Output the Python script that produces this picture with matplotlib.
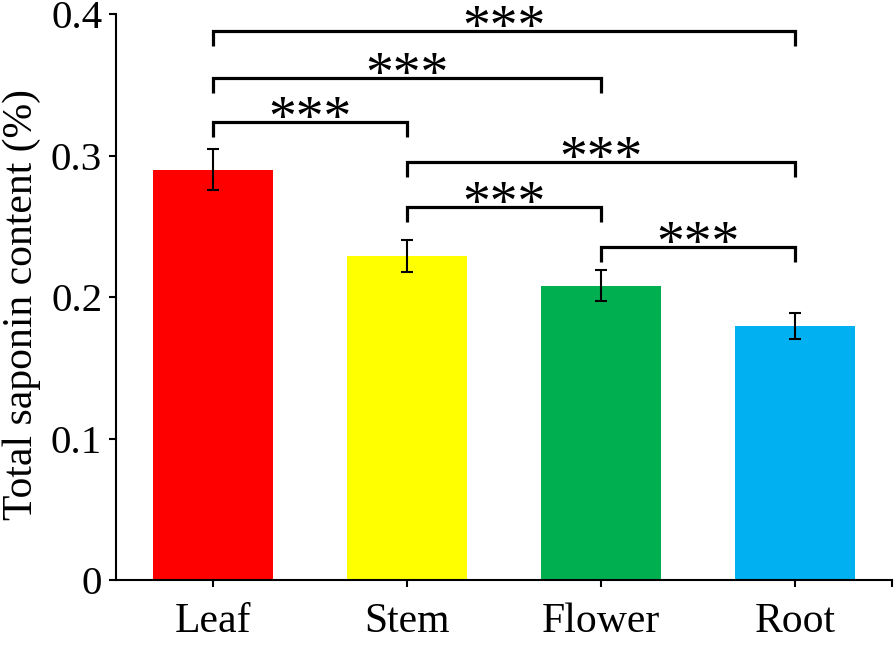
import matplotlib
matplotlib.use("Agg")
import matplotlib.pyplot as plt

categories = ["Leaf", "Stem", "Flower", "Root"]
values = [0.290, 0.229, 0.208, 0.1795]
errors = [0.0145, 0.011, 0.011, 0.0095]
colors = ["#FF0000", "#FFFF00", "#00B050", "#00B0F0"]
# (left index, right index, bracket height, label)
brackets = [
    (0, 3, 0.388, "***"),
    (0, 2, 0.355, "***"),
    (0, 1, 0.3235, "***"),
    (1, 3, 0.2955, "***"),
    (1, 2, 0.2635, "***"),
    (2, 3, 0.2355, "***"),
]
y_ticks = [0, 0.1, 0.2, 0.3, 0.4]
y_ticklabels = ["0", "0.1", "0.2", "0.3", "0.4"]

plt.rcParams['font.family'] = ['Liberation Serif', 'DejaVu Serif']

fig = plt.figure(figsize=(8.96, 6.48), dpi=100)
ax = fig.add_axes([0.1295, 0.1049, 0.866, 0.8735])

x = list(range(len(categories)))
ax.bar(x, values, width=0.62, color=colors, zorder=2)
ax.errorbar(x, values, yerr=errors, fmt='none', ecolor='black',
            elinewidth=1.5, capsize=4.5, capthick=1.5, zorder=3)

leg = 0.0105
for i, j, h, lab in brackets:
    ax.plot([i, i, j, j], [h - leg, h, h, h - leg], color='black',
            lw=2.3, solid_joinstyle='miter', solid_capstyle='butt', zorder=4)
    ax.annotate(lab, xy=((i + j) / 2, h), xytext=(0, -9.5),
                textcoords='offset points', ha='center', va='baseline',
                fontsize=40, color='black')

ax.set_xlim(-0.5, 3.5)
ax.set_ylim(0, 0.4)
ax.set_xticks(x + [3.5])
ax.set_xticklabels(categories + [""], fontsize=30)
ax.set_yticks(y_ticks)
ax.set_yticklabels(y_ticklabels, fontsize=29.5)

for s in ['top', 'right']:
    ax.spines[s].set_visible(False)
for s in ['left', 'bottom']:
    ax.spines[s].set_linewidth(1.5)
ax.tick_params(axis='both', direction='out', length=5, width=1.5)
ax.tick_params(axis='x', pad=11)
ax.tick_params(axis='y', pad=5)
ax.set_ylabel("Total saponin content (%)", fontsize=30)
ax.yaxis.set_label_coords(-0.097, 0.486)

fig.savefig("out.png", dpi=100)
